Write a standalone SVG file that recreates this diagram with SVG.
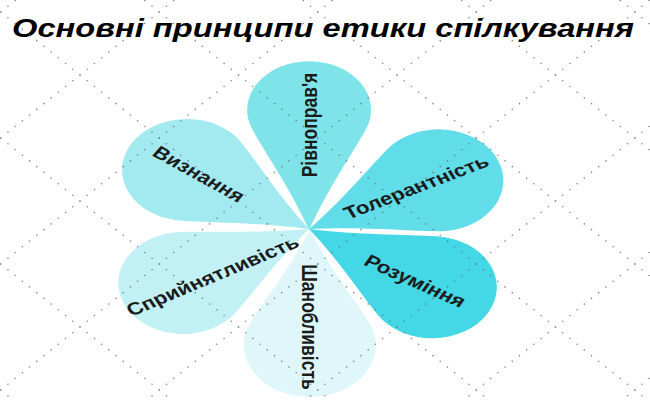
<svg xmlns="http://www.w3.org/2000/svg" width="650" height="400" viewBox="0 0 650 400">
<defs>
<style>
.grid line{stroke:#6a6a6a;stroke-width:1.6;stroke-linecap:round;stroke-dasharray:0 9.2036;fill:none}
.lbl{font-family:"Liberation Sans",Arial,sans-serif;font-weight:bold;font-size:17.5px;fill:#1b1b1b;text-anchor:middle}
.title{font-family:"Liberation Sans",Arial,sans-serif;font-weight:bold;font-style:italic;font-size:26.5px;fill:#000}
</style>
<path id="sidePetal" d="M0,0 C35.7,-14.5 67.8,-34.4 89.98,-45.51 A51,51 0 1 1 89.98,45.51 C67.8,34.4 35.7,14.5 0,0Z"/>
</defs>
<rect width="650" height="400" fill="#ffffff"/>
<g id="title"><text class="title" x="12" y="37" textLength="622" lengthAdjust="spacingAndGlyphs">Основні принципи етики спілкування</text></g>
<g transform="scale(1.2695,1)">
  <g id="node-rivnopravia">
    <path transform="translate(243.5,230) rotate(-90)" fill="#7fe3ea" d="M0,0 C39.8,-14.2 75.5,-33.6 100.15,-44.58 A48.8,48.8 0 1 1 100.15,44.58 C75.5,33.6 39.8,14.2 0,0Z"/>
  </g>
  <g id="node-tolerantnist">
    <use href="#sidePetal" transform="translate(243.5,229) rotate(-25.5)" fill="#60dde8"/>
  </g>
  <g id="node-rozuminnia">
    <use href="#sidePetal" transform="translate(243.5,229) rotate(31)" fill="#44d7e5"/>
  </g>
  <g id="node-shanoblyvist">
    <path transform="translate(244,230) rotate(90)" fill="#dff7fa" d="M0,0 C36.3,-14.75 69,-35 91.49,-46.38 A52,52 0 1 1 91.49,46.38 C69,35 36.3,14.75 0,0Z"/>
  </g>
  <g id="node-spryiniatlyvist">
    <use href="#sidePetal" transform="translate(243.5,229) rotate(151.5)" fill="#c1f1f5"/>
  </g>
  <g id="node-vyznannia">
    <use href="#sidePetal" transform="translate(243.5,229) rotate(211.5)" fill="#a3eaf0"/>
  </g>
</g>
<g class="grid" opacity="0.8">
  <line x1="-78.5" y1="-555" x2="714" y2="75"/>
  <line x1="-78.5" y1="-429" x2="714" y2="201"/>
  <line x1="-78.5" y1="-303" x2="714" y2="327"/>
  <line x1="-78.5" y1="-177" x2="714" y2="453"/>
  <line x1="-78.5" y1="-51" x2="714" y2="579"/>
  <line x1="-78.5" y1="75" x2="714" y2="705"/>
  <line x1="-78.5" y1="201" x2="714" y2="831"/>
  <line x1="-78.5" y1="327" x2="714" y2="957"/>
  <line x1="-78.5" y1="75" x2="714" y2="-555"/>
  <line x1="-78.5" y1="201" x2="714" y2="-429"/>
  <line x1="-78.5" y1="327" x2="714" y2="-303"/>
  <line x1="-78.5" y1="453" x2="714" y2="-177"/>
  <line x1="-78.5" y1="579" x2="714" y2="-51"/>
  <line x1="-78.5" y1="705" x2="714" y2="75"/>
  <line x1="-78.5" y1="831" x2="714" y2="201"/>
  <line x1="-78.5" y1="957" x2="714" y2="327"/>
</g>
<g transform="scale(1.2695,1)">
  <text class="lbl" transform="translate(243.4,125) rotate(-90)" dy="0.35em">Рівноправ'я</text>
  <text class="lbl" transform="translate(327.7,187) rotate(-26)" dy="0.35em">Толерантність</text>
  <text class="lbl" transform="translate(327,281) rotate(29.5)" dy="0.35em">Розуміння</text>
  <text class="lbl" transform="translate(244,327) rotate(90)" dy="0.35em">Шанобливість</text>
  <text class="lbl" transform="translate(167.4,276) rotate(-28)" dy="0.35em">Сприйнятливість</text>
  <text class="lbl" transform="translate(156.8,174) rotate(35)" dy="0.35em">Визнання</text>
</g>
</svg>
